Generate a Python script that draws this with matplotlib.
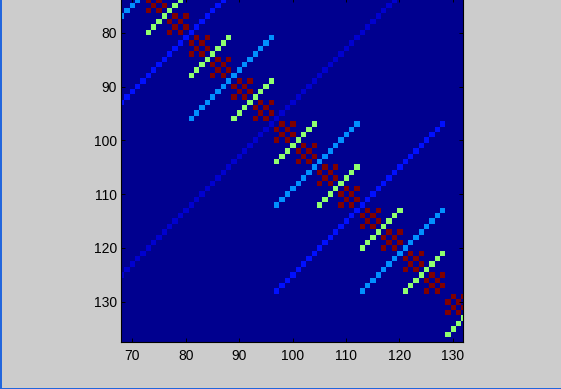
import numpy as np
import matplotlib
matplotlib.use("Agg")
import matplotlib.pyplot as plt
from matplotlib.colors import ListedColormap
from matplotlib.patches import Rectangle

# ---- data ----
matrix_size = 144
# entry value depends on (row-1) XOR (col-1); codes seen in the picture and their colour levels
xor_codes = [1, 3, 7, 15, 31, 63]
code_values = [1.0, 1.0, 0.5, 0.25, 0.125, 0.0625]
xticks = [70, 80, 90, 100, 110, 120, 130]
yticks = [80, 90, 100, 110, 120, 130]
xlim = (67.88, 131.98)
ylim = (137.43, 73.64)

# build matrix
idx = np.arange(matrix_size)
X = np.bitwise_xor.outer(idx, idx)
M = np.zeros((matrix_size, matrix_size))
for c, v in zip(xor_codes, code_values):
    M[X == c] = v

# MATLAB jet(64)
def matlab_jet(m=64):
    n = int(np.ceil(m / 4))
    u = np.concatenate([np.arange(1, n + 1) / n, np.ones(n - 1), np.arange(n, 0, -1) / n])
    g = int(np.ceil(n / 2)) - (1 if m % 4 == 1 else 0) + np.arange(1, len(u) + 1)
    r = g + n
    b = g - n
    J = np.zeros((m, 3))
    J[r[r <= m] - 1, 0] = u[r <= m]
    J[g[g <= m] - 1, 1] = u[g <= m]
    J[b[b >= 1] - 1, 2] = u[b >= 1]
    return ListedColormap(J)

plt.rcParams['font.family'] = ['Liberation Sans', 'DejaVu Sans']

W, H = 561, 389
fig = plt.figure(figsize=(W / 100, H / 100), dpi=100)
fig.patch.set_facecolor('#cccccc')

left, right, bottom_px, top_px = 121, 463.3, 341.7, -1.5
ax = fig.add_axes([left / W, (H - bottom_px) / H, (right - left) / W, (bottom_px - top_px) / H])
ax.imshow(M, cmap=matlab_jet(64), vmin=0, vmax=1, interpolation='nearest',
          extent=[0.5, matrix_size + 0.5, matrix_size + 0.5, 0.5], aspect='auto')
ax.set_xlim(*xlim)
ax.set_ylim(*ylim)
ax.set_xticks(xticks)
ax.set_yticks(yticks)
ax.tick_params(direction='in', length=2.8, width=0.7, labelsize=10, colors='black',
               top=True, right=True)
ax.tick_params(axis='x', pad=5)
ax.tick_params(axis='y', pad=3)
for s in ax.spines.values():
    s.set_linewidth(0.8)
    s.set_color('black')

# window border lines
fig.add_artist(Rectangle((0, 0), 1.5 / W, 1, transform=fig.transFigure, color='#2266dd', lw=0))
fig.add_artist(Rectangle((0, 0), 1, 1.5 / H, transform=fig.transFigure, color='#2266dd', lw=0))

fig.savefig('out.png', dpi=100, facecolor=fig.get_facecolor())
